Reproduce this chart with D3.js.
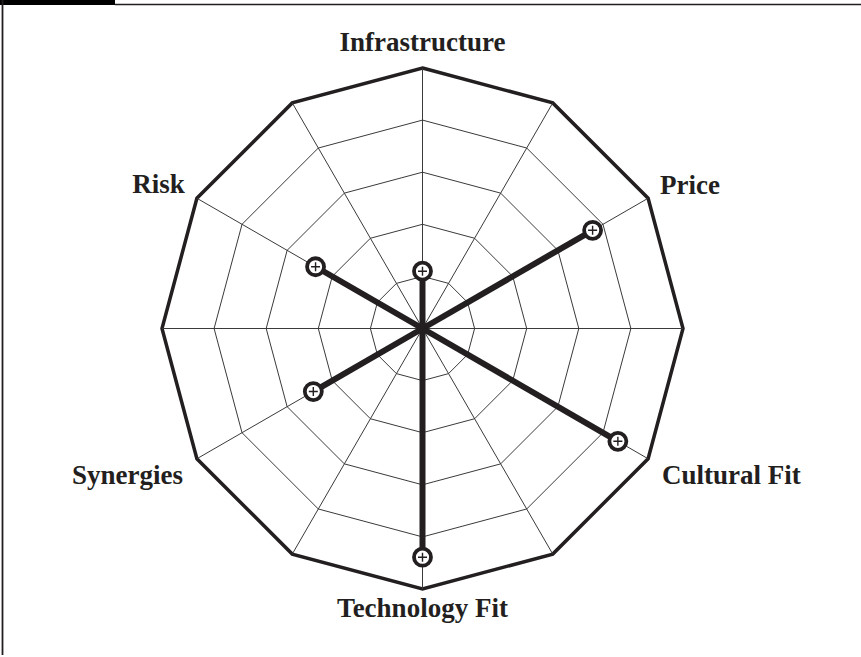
<!DOCTYPE html>
<html>
<head>
<meta charset="utf-8">
<script src="https://cdn.jsdelivr.net/npm/d3@7"></script>
<style>
  body { margin: 0; background: #fff; }
  svg { display: block; }
  .lbl { font-family: "Liberation Serif", "Times New Roman", serif; font-weight: bold; font-size: 27px; fill: #231f20; }
</style>
</head>
<body>
<div id="chart"></div>
<script>
// axes of the radar, clockwise from the top
var axes = ["Infrastructure", "Price", "Cultural Fit", "Technology Fit", "Synergies", "Risk"];
var values = [1.1, 3.77, 4.33, 4.39, 2.42, 2.37];
var levels = [1, 2, 3, 4, 5];
var spokeCount = 12;

var width = 861, height = 657;
var cx = 422.5, cy = 328.5, R = 260.5;
var ink = "#231f20";

var svg = d3.select("#chart").append("svg")
  .attr("width", width)
  .attr("height", height);

// frame: black tab top-left, thin rule across the top and down the left
svg.append("rect").attr("x", 0).attr("y", 0).attr("width", 115).attr("height", 5).attr("fill", "#000");
svg.append("line").attr("x1", 115).attr("x2", width).attr("y1", 4.5).attr("y2", 4.5)
  .attr("stroke", ink).attr("stroke-width", 1.6);
svg.append("line").attr("x1", 2.5).attr("x2", 2.5).attr("y1", 0).attr("y2", 655)
  .attr("stroke", ink).attr("stroke-width", 1.8);

var r = d3.scaleLinear().domain([0, 5]).range([0, R]);
// angle in radians measured clockwise from the top
var spokeAngle = d3.scaleLinear().domain([0, spokeCount]).range([0, 2 * Math.PI]);
var axisAngle = d3.scaleLinear().domain([0, axes.length]).range([0, 2 * Math.PI]);

function pt(a, rad) {
  return [cx + rad * Math.sin(a), cy - rad * Math.cos(a)];
}

var g = svg.append("g");

// grid rings (12-sided)
var spokes = d3.range(spokeCount);
levels.forEach(function(lv) {
  var pts = spokes.map(function(j) { return pt(spokeAngle(j), r(lv)); });
  g.append("polygon")
    .attr("points", pts.map(function(p) { return p.join(","); }).join(" "))
    .attr("fill", "none")
    .attr("stroke", lv === 5 ? ink : "#3a3a3a")
    .attr("stroke-width", lv === 5 ? 3.5 : 1)
    .attr("stroke-linejoin", "miter");
});

// thin spokes
g.selectAll("line.spoke")
  .data(spokes)
  .enter()
  .append("line")
  .attr("class", "spoke")
  .attr("x1", cx).attr("y1", cy)
  .attr("x2", function(j) { return pt(spokeAngle(j), R)[0]; })
  .attr("y2", function(j) { return pt(spokeAngle(j), R)[1]; })
  .attr("stroke", "#3a3a3a")
  .attr("stroke-width", 1);

// heavy value spokes
g.selectAll("line.val")
  .data(values)
  .enter()
  .append("line")
  .attr("class", "val")
  .attr("x1", cx).attr("y1", cy)
  .attr("x2", function(d, i) { return pt(axisAngle(i), r(d))[0]; })
  .attr("y2", function(d, i) { return pt(axisAngle(i), r(d))[1]; })
  .attr("stroke", ink)
  .attr("stroke-width", 6);

// markers: open circle with a plus
var mk = g.selectAll("g.mk")
  .data(values)
  .enter()
  .append("g")
  .attr("class", "mk")
  .attr("transform", function(d, i) {
    var p = pt(axisAngle(i), r(d));
    return "translate(" + p[0] + "," + p[1] + ")";
  });
mk.append("circle").attr("r", 8.5).attr("fill", "#fff").attr("stroke", ink).attr("stroke-width", 3.8);
mk.append("path").attr("d", "M-4.5,0H4.5M0,-4.5V4.5").attr("stroke", ink).attr("stroke-width", 1.4);

// axis labels
var labelPos = [
  {anchor: "middle", dx: 0, dy: -17},
  {anchor: "start", dx: 12, dy: -4},
  {anchor: "start", dx: 14, dy: 25},
  {anchor: "middle", dx: 0, dy: 28},
  {anchor: "end", dx: -14, dy: 25},
  {anchor: "end", dx: -12, dy: -5}
];
g.selectAll("text.lbl")
  .data(axes)
  .enter()
  .append("text")
  .attr("class", "lbl")
  .attr("text-anchor", function(d, i) { return labelPos[i].anchor; })
  .attr("x", function(d, i) { return pt(axisAngle(i), R)[0] + labelPos[i].dx; })
  .attr("y", function(d, i) { return pt(axisAngle(i), R)[1] + labelPos[i].dy; })
  .text(function(d) { return d; });
</script>
</body>
</html>
